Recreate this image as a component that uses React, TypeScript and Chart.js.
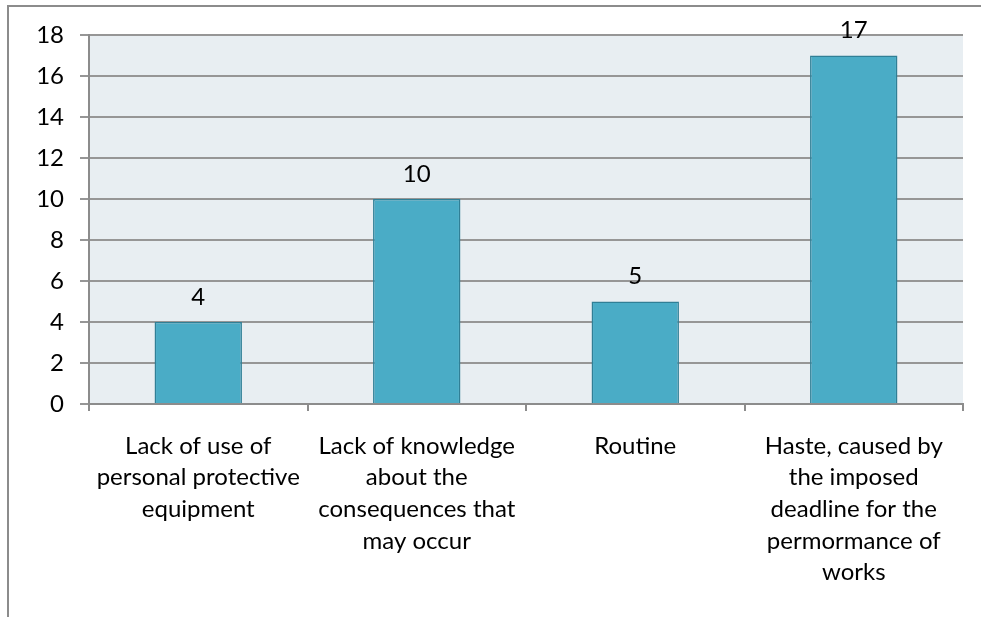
import React, { useEffect, useRef } from "react";
import { Chart, registerables } from "chart.js";

Chart.register(...registerables);

const categories: string[][] = [
  ["Lack of use of", "personal protective", "equipment"],
  ["Lack of knowledge", "about the", "consequences that", "may occur"],
  ["Routine"],
  ["Haste, caused by", "the imposed", "deadline for the", "permormance of", "works"],
];
const values: number[] = [4, 10, 5, 17];
const yTicks: number[] = [0, 2, 4, 6, 8, 10, 12, 14, 16, 18];

const FONT = "Lato, 'Open Sans', sans-serif";
const FONT_SIZE = 24;

const frameAndBg = {
  id: "frameAndBg",
  beforeDraw(chart: any) {
    const { ctx, chartArea } = chart;
    ctx.save();
    ctx.fillStyle = "#ffffff";
    ctx.fillRect(0, 0, chart.width, chart.height);
    ctx.strokeStyle = "#8c8c8c";
    ctx.lineWidth = 2;
    ctx.beginPath();
    ctx.moveTo(8, 617);
    ctx.lineTo(8, 6);
    ctx.lineTo(981, 6);
    ctx.stroke();
    ctx.fillStyle = "#e8eef2";
    ctx.fillRect(chartArea.left, chartArea.top, chartArea.right - chartArea.left, chartArea.bottom - chartArea.top);
    ctx.restore();
  },
};

const valueLabels = {
  id: "valueLabels",
  afterDatasetsDraw(chart: any) {
    const { ctx } = chart;
    const meta = chart.getDatasetMeta(0);
    ctx.save();
    ctx.font = `${FONT_SIZE}px ${FONT}`;
    ctx.fillStyle = "#000000";
    ctx.textAlign = "center";
    ctx.textBaseline = "middle";
    meta.data.forEach((el: any, i: number) => {
      ctx.fillText(String(values[i]), el.x, el.y - 25);
    });
    ctx.restore();
  },
};

export default function App() {
  const ref = useRef<HTMLCanvasElement | null>(null);
  useEffect(() => {
    if (!ref.current) return;
    const chart = new Chart(ref.current, {
      type: "bar",
      data: {
        labels: categories as any,
        datasets: [
          {
            data: values,
            backgroundColor: "#4aacc6",
            borderColor: "#307f96",
            borderWidth: 1.5,
            barPercentage: 0.4,
            categoryPercentage: 1,
          },
        ],
      },
      options: {
        responsive: false,
        animation: false,
        layout: { padding: { top: 35, right: 18, left: 0, bottom: 0 } },
        plugins: {
          legend: { display: false },
          tooltip: { enabled: false },
        },
        scales: {
          x: {
            afterFit: (scale: any) => {
              scale.height = 213;
            },
            grid: {
              offset: true,
              drawOnChartArea: false,
              drawTicks: true,
              tickLength: 7,
              color: "#8c8c8c",
              lineWidth: 2,
            },
            border: { display: true, color: "#8c8c8c", width: 2 },
            ticks: {
              autoSkip: false,
              maxRotation: 0,
              minRotation: 0,
              padding: 19,
              color: "#000000",
              font: { family: FONT, size: FONT_SIZE, lineHeight: "31.7px" as any },
            },
          },
          y: {
            min: 0,
            max: 18,
            afterFit: (scale: any) => {
              scale.width = 89;
            },
            afterBuildTicks: (scale: any) => {
              scale.ticks = yTicks.map((v) => ({ value: v }));
            },
            grid: {
              drawOnChartArea: true,
              drawTicks: true,
              tickLength: 9,
              color: "#969696",
              lineWidth: 2,
            },
            border: { display: true, color: "#8c8c8c", width: 2 },
            ticks: {
              padding: 16,
              color: "#000000",
              font: { family: FONT, size: FONT_SIZE },
            },
          },
        },
      },
      plugins: [frameAndBg, valueLabels],
    });
    return () => chart.destroy();
  }, []);
  return (
    <div style={{ position: "absolute", left: 0, top: 0, width: 981, height: 617 }}>
      <canvas ref={ref} width={981} height={617} style={{ display: "block" }} />
    </div>
  );
}
